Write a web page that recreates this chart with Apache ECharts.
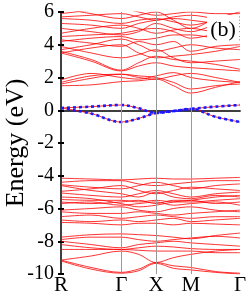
<!DOCTYPE html>
<html><head><meta charset="utf-8">
<script src="https://cdn.jsdelivr.net/npm/echarts@6/dist/echarts.min.js"></script>
<style>html,body{margin:0;padding:0;background:#fff}#c{width:249px;height:301px}</style>
</head><body><div id="c"></div>
<script>
// high-symmetry path (simple cubic, units of 2π/a)
const kTickLabels = ['R', 'Γ', 'X', 'M', 'Γ'];
const kTicks = [0, 0.866, 1.366, 1.866, 2.573];
// k-points at which band energies are sampled: R, mid, Γ, mid, X, mid, M, mid, Γ
const kPath = [0, 0.433, 0.866, 1.116, 1.366, 1.616, 1.866, 2.22, 2.573];
const yTicks = [6, 4, 2, 0, -2, -4, -6, -8, -10];

// flat-ish bands near Fermi level (blue)
const midBandUpper = [0.14, 0.22, 0.32, 0.12, -0.17, -0.05, 0.08, 0.22, 0.32];
const midBandLower = [0.14, -0.2, -0.72, -0.5, -0.17, -0.05, 0.08, -0.4, -0.72];

// conduction bands (red)
const condBands = [
  [1.5, 1.55, 1.75, 1.8, 1.9, 1.5, 1.05, 1.4, 1.75],
  [1.6, 1.95, 2.2, 2.0, 1.9, 2.1, 2.25, 2.0, 1.7],
  [1.7, 2.1, 2.2, 2.1, 2.0, 1.7, 1.3, 1.5, 1.6],
  [1.85, 2.25, 2.0, 1.9, 2.1, 2.3, 2.0, 1.8, 1.7],
  [3.5, 3.0, 2.4, 2.7, 2.9, 2.7, 2.6, 2.5, 2.4],
  [3.6, 3.1, 2.45, 2.9, 3.3, 3.1, 3.0, 2.8, 2.5],
  [3.7, 4.0, 4.35, 4.0, 3.6, 3.8, 4.0, 3.8, 3.7],
  [3.5, 3.8, 4.0, 3.5, 3.2, 3.3, 3.4, 3.6, 3.9],
  [3.9, 3.5, 3.2, 3.4, 3.7, 3.2, 2.9, 3.0, 3.1],
  [4.3, 4.1, 3.9, 4.2, 4.0, 4.2, 3.6, 3.9, 4.0],
  [4.5, 4.6, 4.7, 4.9, 5.0, 4.8, 4.4, 4.6, 4.5],
  [4.7, 5.0, 5.2, 5.0, 4.7, 4.9, 5.0, 4.8, 4.8],
  [5.0, 4.8, 4.6, 4.8, 5.3, 5.0, 4.8, 5.2, 5.3],
  [5.6, 5.5, 5.3, 5.5, 5.6, 5.4, 5.2, 5.5, 5.7],
  [5.7, 5.8, 5.9, 5.7, 5.5, 5.7, 5.8, 5.6, 5.5],
  [5.9, 6.1, 6.2, 6.0, 5.8, 5.9, 6.0, 5.9, 5.9],
  [5.3, 5.2, 5.0, 5.3, 5.5, 5.6, 5.5, 5.3, 5.1],
  [6.2, 5.9, 5.6, 5.8, 6.0, 5.5, 5.0, 5.6, 6.0],
  [4.2, 4.4, 4.5, 4.3, 4.4, 4.6, 4.6, 4.4, 4.3]
];

// valence bands (red)
const valBands = [
  [-4.15, -4.2, -4.25, -4.2, -4.15, -4.2, -4.2, -4.15, -4.1],
  [-4.4, -4.3, -4.3, -4.5, -4.6, -4.5, -4.4, -4.3, -4.3],
  [-4.55, -4.7, -4.8, -4.6, -4.4, -4.6, -4.8, -4.6, -4.5],
  [-4.95, -4.8, -4.6, -4.9, -5.1, -4.9, -4.7, -4.8, -4.9],
  [-5.05, -5.2, -5.3, -5.1, -4.9, -5.1, -5.3, -5.1, -5.0],
  [-5.45, -5.5, -5.5, -5.6, -5.5, -5.6, -5.6, -5.5, -5.4],
  [-5.6, -5.7, -5.6, -5.5, -5.7, -5.5, -5.5, -5.7, -5.6],
  [-5.7, -5.6, -5.8, -5.7, -5.6, -5.8, -5.7, -5.6, -5.8],
  [-6.1, -6.0, -5.9, -6.1, -6.2, -6.0, -5.9, -6.1, -6.2],
  [-6.2, -6.3, -6.3, -6.2, -6.3, -6.4, -6.3, -6.2, -6.1],
  [-6.5, -6.4, -6.6, -6.5, -6.4, -6.5, -6.6, -6.5, -6.5],
  [-6.7, -6.8, -6.7, -6.8, -6.7, -6.6, -6.8, -6.7, -6.6],
  [-6.85, -6.9, -7.0, -6.9, -6.9, -7.0, -6.9, -6.95, -7.0],
  [-4.6, -4.9, -5.1, -5.3, -5.0, -5.3, -5.4, -5.2, -5.3],
  [-5.3, -5.4, -5.7, -5.9, -5.8, -5.6, -5.5, -5.3, -5.2],
  [-7.75, -7.6, -7.55, -7.6, -7.65, -7.75, -7.85, -7.65, -7.5],
  [-7.9, -7.75, -7.75, -7.9, -8.0, -7.9, -7.8, -7.7, -7.8],
  [-8.0, -8.2, -8.4, -8.2, -8.1, -8.0, -8.1, -8.2, -8.3],
  [-8.2, -8.4, -8.5, -8.4, -8.3, -8.35, -8.45, -8.5, -8.5],
  [-8.5, -8.5, -8.5, -8.55, -8.6, -8.6, -8.6, -8.7, -8.7],
  [-9.15, -8.9, -8.6, -8.8, -9.3, -9.0, -8.8, -8.6, -8.5],
  [-9.15, -9.6, -9.9, -9.7, -9.3, -9.5, -9.6, -9.85, -9.95],
  [-9.2, -9.7, -9.95, -9.8, -9.35, -9.65, -9.75, -9.9, -10.0]
];

const toData = b => kPath.map((k, i) => [k, b[i]]);
const series = [];
const redLine = (b) => ({
  type: 'line', data: toData(b), smooth: 0.35, symbol: 'none', silent: true,
  lineStyle: { color: '#ff0000', width: 0.9, opacity: 0.9 }, z: 3
});
condBands.concat(valBands).forEach(b => series.push(redLine(b)));
[midBandUpper, midBandLower].forEach(b => {
  series.push(redLine(b));
  series.push({
    type: 'line', data: toData(b), smooth: 0.35, symbol: 'none', silent: true,
    lineStyle: { color: '#1a1aff', width: 2.6, type: [3, 3] }, z: 4
  });
});
// vertical lines at high-symmetry points
series.push({
  type: 'line', data: [], silent: true,
  markLine: {
    symbol: 'none', silent: true, label: { show: false },
    lineStyle: { color: '#999', width: 1, type: 'solid' },
    data: kTicks.slice(1, 4).map(k => ({ xAxis: k }))
  }, z: 2
});

const chart = echarts.init(document.getElementById('c'), null, { renderer: 'canvas' });
const serif = 'Liberation Serif, Times New Roman, serif';
chart.setOption({
  animation: false,
  grid: { left: 61, right: 9, top: 12, bottom: 27, containLabel: false, outerBoundsMode: 'none' },
  xAxis: [{
    type: 'value', min: 0, max: kTicks[kTicks.length - 1],
    axisLine: { show: true, lineStyle: { color: '#333', width: 1.5 } },
    axisTick: { show: false },
    splitLine: { show: false },
    axisLabel: {
      customValues: kTicks,
      formatter: v => kTickLabels[kTicks.findIndex(t => Math.abs(t - v) < 1e-6)] || '',
      color: '#000', fontFamily: serif, fontSize: 21, margin: 1
    }
  }, {
    type: 'value', position: 'top', min: 0, max: kTicks[kTicks.length - 1],
    axisLine: { show: true, lineStyle: { color: '#333', width: 1.5 } },
    axisTick: { show: false }, axisLabel: { show: false }, splitLine: { show: false }
  }],
  yAxis: [{
    type: 'value', min: -10, max: 6, interval: 2,
    name: 'Energy (eV)', nameLocation: 'middle', nameGap: 32, nameMoveOverlap: false,
    nameTextStyle: { color: '#000', fontFamily: serif, fontSize: 26 },
    axisLine: { show: true, lineStyle: { color: '#333', width: 1.5 } },
    axisTick: { show: true, inside: true, length: 3, lineStyle: { color: '#000', width: 2 } },
    splitLine: { show: false },
    axisLabel: { color: '#000', fontFamily: serif, fontSize: 20, margin: 7 }
  }, {
    type: 'value', position: 'right', min: -10, max: 6, interval: 2,
    axisLine: { show: true, lineStyle: { color: '#333', width: 1.5 } },
    axisTick: { show: true, inside: true, length: 3, lineStyle: { color: '#000', width: 2 } },
    axisLabel: { show: false }, splitLine: { show: false }
  }],
  series: series,
  graphic: [
    { type: 'rect', shape: { x: 207, y: 15, width: 32, height: 28 }, style: { fill: '#fff' }, z: 100 },
    { type: 'text', x: 223, y: 30, z: 101,
      style: { text: '(b)', fill: '#000', font: '22px ' + serif, align: 'center', verticalAlign: 'middle' } }
  ]
});
</script></body></html>
